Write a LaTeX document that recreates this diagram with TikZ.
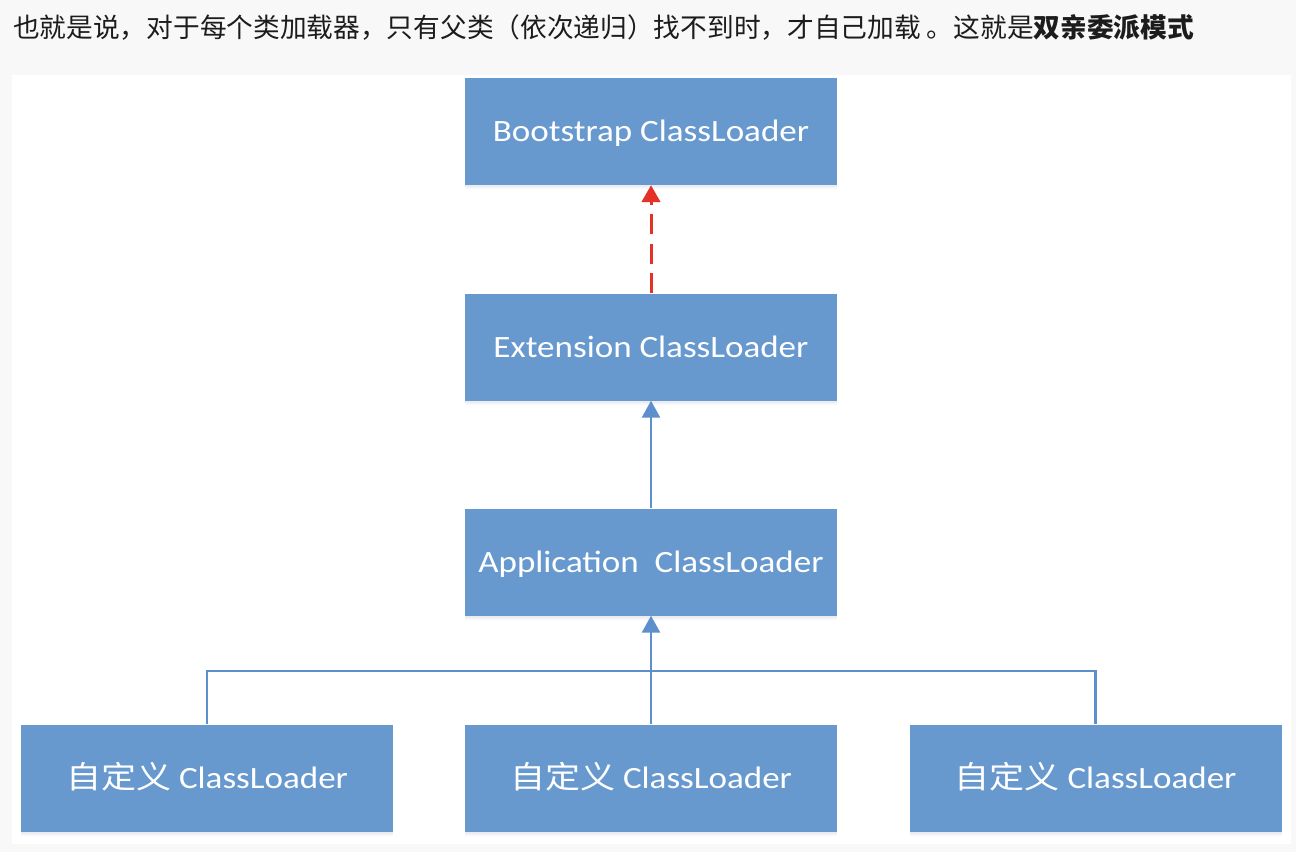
\documentclass[tikz,border=0pt]{standalone}
\usepackage{fontspec}
\usepackage{graphicx}
\usetikzlibrary{arrows.meta}
\newfontfamily\cjk{Noto Sans CJK SC}
\newfontfamily\boxfont{Carlito}
\definecolor{pagebg}{RGB}{248,248,248}
\definecolor{boxblue}{RGB}{103,153,207}
\definecolor{lineblue}{RGB}{92,143,204}
\definecolor{dashred}{RGB}{229,50,41}
\definecolor{headtext}{RGB}{28,28,28}
\definecolor{shadowblue}{RGB}{60,90,130}
\newcommand{\boxtext}[1]{\scalebox{1.13}[1]{\fontsize{31}{31}\selectfont #1}}
\begin{document}
\begin{tikzpicture}[x=1pt,y=-1pt,
  loader/.style={fill=boxblue, draw=none, minimum width=372pt, minimum height=107pt,
    inner sep=0pt, text=white, text height=20pt, text depth=0pt, font=\boxfont,
    preaction={fill=shadowblue, opacity=0.05, transform canvas={yshift=-4pt}},
    preaction={fill=shadowblue, opacity=0.06, transform canvas={yshift=-2pt}}},
  solidlink/.style={draw=lineblue, line width=2.6pt, -{Triangle[length=17pt,width=18pt]}},
  dashlink/.style={draw=dashred, line width=3pt, dash pattern=on 20pt off 9.5pt,
    -{Triangle[length=17pt,width=18.5pt]}},
  treeline/.style={draw=lineblue, line width=2.6pt},
  header/.style={anchor=base west, inner sep=0pt, text=headtext,
    font=\cjk\fontsize{26.7}{26.7}\selectfont}
]
\useasboundingbox (0,0) rectangle (1296,852);
\fill[pagebg] (0,0) rectangle (1296,852);
\fill[white] (12,75) rectangle (1291,844);

\node[header] (title) at (13,37) {也就是说，对于每个类加载器，只有父类（依次递归）找不到时，才自己加载 。这就是{\bfseries 双亲委派模式}};

\node[loader] (boot) at (651,131.5) {\boxtext{Bootstrap ClassLoader}};
\node[loader] (ext) at (651,347) {\boxtext{Extension ClassLoader}};
\node[loader] (app) at (651,562) {\boxtext{Application\ \ ClassLoader}};
\node[loader] (c1) at (207,778) {\boxtext{{\cjk 自定义} ClassLoader}};
\node[loader] (c2) at (651,778) {\boxtext{{\cjk 自定义} ClassLoader}};
\node[loader] (c3) at (1095.5,778) {\boxtext{{\cjk 自定义} ClassLoader}};

\coordinate (bus) at (651,671);

\draw[dashlink] (ext.north) -- (boot.south);
\draw[solidlink] (app.north) -- (ext.south);
\draw[solidlink] (c2.north) -- (app.south);
\draw[treeline] (c1.north) -- (c1.north |- bus) -- (c3.north |- bus) -- (c3.north);
\end{tikzpicture}
\end{document}
